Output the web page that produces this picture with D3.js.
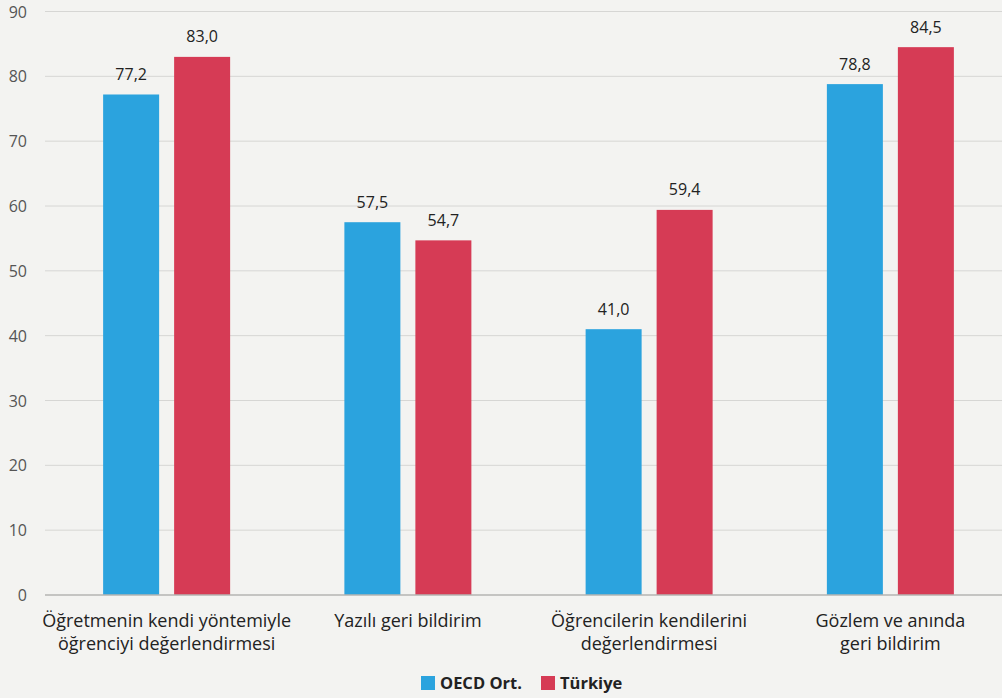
<!DOCTYPE html>
<html>
<head>
<meta charset="utf-8">
<script src="https://cdn.jsdelivr.net/npm/d3@7"></script>
<style>
  html, body { margin: 0; padding: 0; background: #f3f3f1; }
  svg { display: block; font-family: "Open Sans", sans-serif; }
</style>
</head>
<body>
<svg id="chart" width="1002" height="698"></svg>
<script>
// Assessment methods, OECD average vs Türkiye (%)
const categories = [
  ["Öğretmenin kendi yöntemiyle", "öğrenciyi değerlendirmesi"],
  ["Yazılı geri bildirim"],
  ["Öğrencilerin kendilerini", "değerlendirmesi"],
  ["Gözlem ve anında", "geri bildirim"]
];
const seriesNames = ["OECD Ort.", "Türkiye"];
const oecdValues = [77.2, 57.5, 41.0, 78.8];
const turkiyeValues = [83.0, 54.7, 59.4, 84.5];
const yTicks = [0, 10, 20, 30, 40, 50, 60, 70, 80, 90];
const colors = ["#2ba3de", "#d63b55"];

const W = 1002, H = 698;
const margin = { left: 46, right: -9, top: 11.5, bottom: 103 };
const svg = d3.select("#chart");

const x = d3.scaleBand()
  .domain(d3.range(categories.length))
  .range([margin.left, W - margin.right])
  .paddingInner(0).paddingOuter(0);

const y = d3.scaleLinear().domain([0, 90]).range([H - margin.bottom, margin.top]);

const barW = 56, gap = 15;
const xs = d3.scaleOrdinal().domain([0, 1]).range([-gap / 2 - barW, gap / 2]);

// gridlines
svg.append("g")
  .selectAll("line")
  .data(yTicks.filter(d => d > 0))
  .join("line")
  .attr("x1", 45).attr("x2", W)
  .attr("y1", d => y(d)).attr("y2", d => y(d))
  .attr("stroke", "#d6d6d4").attr("stroke-width", 1);

// y tick labels
const yAxis = d3.axisLeft(y).tickValues(yTicks).tickSize(0).tickPadding(0).tickFormat(d3.format("d"));
const ya = svg.append("g").attr("transform", "translate(27,0)").call(yAxis);
ya.select(".domain").remove();
ya.selectAll("text")
  .attr("font-size", 16).attr("fill", "#555").attr("font-family", "Open Sans, sans-serif")
  .attr("dy", "0.35em");

// bars
const data = [];
categories.forEach((c, i) => {
  data.push({ i, s: 0, v: oecdValues[i] });
  data.push({ i, s: 1, v: turkiyeValues[i] });
});
const fmt = v => d3.format(".1f")(v).replace(".", ",");

svg.append("g")
  .selectAll("rect")
  .data(data)
  .join("rect")
  .attr("x", d => x(d.i) + x.bandwidth() / 2 + xs(d.s))
  .attr("width", barW)
  .attr("y", d => y(d.v))
  .attr("height", d => y(0) - y(d.v))
  .attr("fill", d => colors[d.s]);

// value labels
svg.append("g")
  .selectAll("text")
  .data(data)
  .join("text")
  .attr("x", d => x(d.i) + x.bandwidth() / 2 + xs(d.s) + barW / 2)
  .attr("y", d => y(d.v) - 14.5)
  .attr("text-anchor", "middle")
  .attr("font-size", 16).attr("fill", "#222")
  .text(d => fmt(d.v));

// baseline
svg.append("line")
  .attr("x1", 45).attr("x2", W)
  .attr("y1", y(0)).attr("y2", y(0))
  .attr("stroke", "#b4b4b2").attr("stroke-width", 1.5);

// category labels
const cg = svg.append("g")
  .selectAll("text")
  .data(categories)
  .join("text")
  .attr("text-anchor", "middle")
  .attr("font-size", 18).attr("fill", "#222")
  .attr("x", (d, i) => x(i) + x.bandwidth() / 2)
  .attr("y", 627);
cg.selectAll("tspan")
  .data(d => d)
  .join("tspan")
  .attr("x", function () { return this.parentNode.getAttribute("x"); })
  .attr("dy", (d, j) => j === 0 ? 0 : 22.5)
  .text(d => d);

// legend
const legend = svg.append("g");
const legendX = [421, 541];
seriesNames.forEach((name, k) => {
  legend.append("rect")
    .attr("x", legendX[k]).attr("y", 676).attr("width", 14).attr("height", 14)
    .attr("fill", colors[k]);
  legend.append("text")
    .attr("x", legendX[k] + 19).attr("y", 689)
    .attr("font-size", 16.5).attr("font-weight", "bold").attr("fill", "#222")
    .text(name);
});
</script>
</body>
</html>
